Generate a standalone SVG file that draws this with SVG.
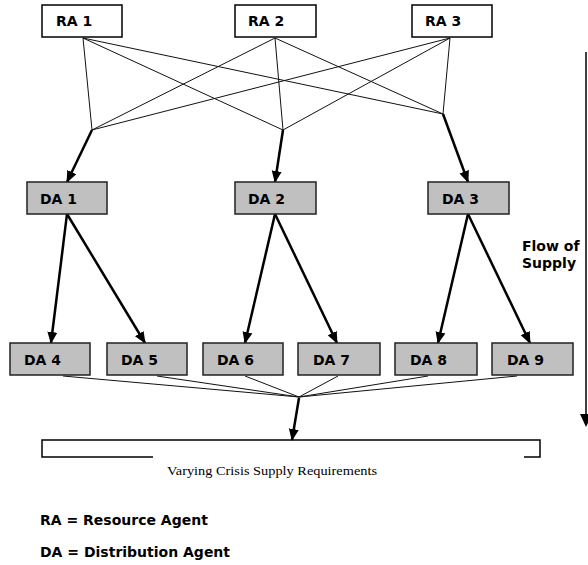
<svg xmlns="http://www.w3.org/2000/svg" width="588" height="565" viewBox="0 0 588 565">
<style>
.ra{fill:#fff;stroke:#000;stroke-width:1.5}
.da{fill:#c0c0c0;stroke:#222;stroke-width:1.5}
.lbl{font-family:"DejaVu Sans",Verdana,sans-serif;font-weight:bold;font-size:14px;fill:#000}
.thin{stroke:#111;stroke-width:1;fill:none}
.thick{stroke:#000;stroke-width:2.5;fill:none;marker-end:url(#ah)}
.cap{font-family:"Liberation Serif","Times New Roman",serif;font-size:12px;fill:#000}
</style>
<defs>
<marker id="ah" markerUnits="userSpaceOnUse" markerWidth="12" markerHeight="12" viewBox="0 0 12 12" refX="11" refY="6" orient="auto">
<path d="M0,1 L12,6 L0,11 Z" fill="#000"/>
</marker>
</defs>
<g id="connectors">
<line class="thin" x1="83" y1="38" x2="92" y2="130"/>
<line class="thin" x1="83" y1="38" x2="283" y2="130"/>
<line class="thin" x1="83" y1="38" x2="443" y2="114"/>
<line class="thin" x1="275" y1="38" x2="92" y2="130"/>
<line class="thin" x1="275" y1="38" x2="283" y2="130"/>
<line class="thin" x1="275" y1="38" x2="443" y2="114"/>
<line class="thin" x1="450" y1="38" x2="92" y2="130"/>
<line class="thin" x1="450" y1="38" x2="283" y2="130"/>
<line class="thin" x1="450" y1="38" x2="443" y2="114"/>
<line class="thick" x1="92" y1="130" x2="67" y2="182"/>
<line class="thick" x1="283" y1="130" x2="275" y2="182"/>
<line class="thick" x1="443" y1="114" x2="468" y2="182"/>
<line class="thick" x1="67" y1="214" x2="51" y2="343"/>
<line class="thick" x1="67" y1="214" x2="145" y2="343"/>
<line class="thick" x1="275" y1="214" x2="245" y2="343"/>
<line class="thick" x1="275" y1="214" x2="337" y2="343"/>
<line class="thick" x1="468" y1="214" x2="438" y2="343"/>
<line class="thick" x1="468" y1="214" x2="530" y2="343"/>
<line class="thin" x1="63" y1="376" x2="299" y2="397"/>
<line class="thin" x1="157" y1="376" x2="299" y2="397"/>
<line class="thin" x1="245" y1="376" x2="299" y2="397"/>
<line class="thin" x1="338" y1="376" x2="299" y2="397"/>
<line class="thin" x1="428" y1="376" x2="299" y2="397"/>
<line class="thin" x1="517" y1="376" x2="299" y2="397"/>
<line class="thick" x1="299" y1="398" x2="292" y2="440"/>
<line x1="586" y1="52" x2="586" y2="416" stroke="#000" stroke-width="1.5"/>
<path d="M580,414 L592,414 L586,427 Z" fill="#000"/>
</g>
<g id="RA1"><rect class="ra" x="42" y="5" width="80" height="32"/><text class="lbl" x="56" y="26">RA 1</text></g>
<g id="RA2"><rect class="ra" x="235" y="5" width="81" height="32"/><text class="lbl" x="248" y="26">RA 2</text></g>
<g id="RA3"><rect class="ra" x="412" y="5" width="80" height="32"/><text class="lbl" x="425" y="26">RA 3</text></g>
<g id="DA1"><rect class="da" x="27" y="182" width="80" height="32"/><text class="lbl" x="40" y="204">DA 1</text></g>
<g id="DA2"><rect class="da" x="235" y="182" width="81" height="32"/><text class="lbl" x="248" y="204">DA 2</text></g>
<g id="DA3"><rect class="da" x="428" y="182" width="81" height="32"/><text class="lbl" x="442" y="204">DA 3</text></g>
<g id="DA4"><rect class="da" x="10" y="343" width="80" height="32"/><text class="lbl" x="24" y="365">DA 4</text></g>
<g id="DA5"><rect class="da" x="107" y="343" width="80" height="32"/><text class="lbl" x="121" y="365">DA 5</text></g>
<g id="DA6"><rect class="da" x="203" y="343" width="80" height="32"/><text class="lbl" x="217" y="365">DA 6</text></g>
<g id="DA7"><rect class="da" x="298" y="343" width="82" height="32"/><text class="lbl" x="313" y="365">DA 7</text></g>
<g id="DA8"><rect class="da" x="395" y="343" width="82" height="32"/><text class="lbl" x="410" y="365">DA 8</text></g>
<g id="DA9"><rect class="da" x="492" y="343" width="81" height="32"/><text class="lbl" x="507" y="365">DA 9</text></g>
<g id="requirements">
<path d="M153,457 H42 V440 H540 V457 H524" fill="none" stroke="#000" stroke-width="1.5"/>
<text class="cap" x="167" y="475" textLength="210" lengthAdjust="spacingAndGlyphs">Varying Crisis  Supply Requirements</text>
</g>
<g id="flow-label">
<text class="lbl" x="522" y="251">Flow of</text>
<text class="lbl" x="522" y="268">Supply</text>
</g>
<g id="legend">
<text class="lbl" x="40" y="525">RA = Resource Agent</text>
<text class="lbl" x="40" y="557">DA = Distribution Agent</text>
</g>
</svg>
